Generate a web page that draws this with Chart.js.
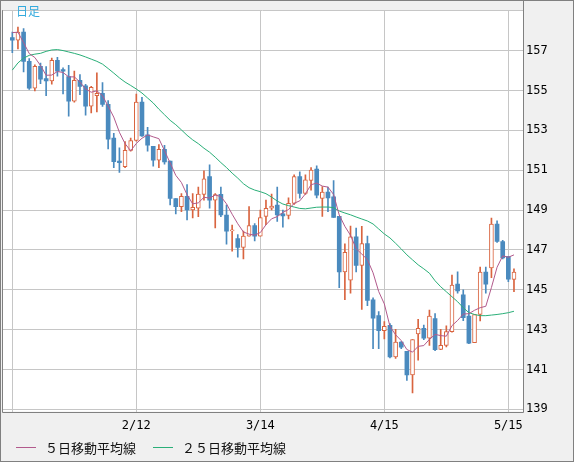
<!DOCTYPE html>
<html lang="ja">
<head>
    <meta charset="UTF-8">
    <title>日足</title>
    <script src="https://cdn.jsdelivr.net/npm/chart.js@4.4.1/dist/chart.umd.min.js"></script>
    <style>
        html, body { margin: 0; padding: 0; background: #f0f0f0; }
        #wrap { position: relative; width: 574px; height: 462px; }
        #chart { display: block; }
        .title { position: absolute; left: 16px; top: 2px; color: #33aadd; font: 12px "Noto Sans CJK JP", sans-serif; }
        .legend { position: absolute; top: 439px; height: 16px; display: flex; align-items: center;
                  font: 13px "Noto Sans CJK JP", sans-serif; color: #111; }
        .legend i { display: inline-block; width: 20px; height: 1px; margin-right: 9px; }
    </style>
</head>
<body>
<div id="wrap">
    <canvas id="chart" width="574" height="462"></canvas>
    <div class="title">日足</div>
    <div class="legend" style="left:16px"><i style="background:#b25a8c"></i>５日移動平均線</div>
    <div class="legend" style="left:153px"><i style="background:#2aaf78"></i>２５日移動平均線</div>
</div>

<script>
    // daily candles, 2025-01-13 .. 2025-05-16
    const dates = [
        '1/13','1/14','1/15','1/16','1/17','1/20','1/21','1/22','1/23','1/24',
        '1/27','1/28','1/29','1/30','1/31','2/3','2/4','2/5','2/6','2/7',
        '2/10','2/11','2/12','2/13','2/14','2/17','2/18','2/19','2/20','2/21',
        '2/24','2/25','2/26','2/27','2/28','3/3','3/4','3/5','3/6','3/7',
        '3/10','3/11','3/12','3/13','3/14','3/17','3/18','3/19','3/20','3/21',
        '3/24','3/25','3/26','3/27','3/28','3/31','4/1','4/2','4/3','4/4',
        '4/7','4/8','4/9','4/10','4/11','4/14','4/15','4/16','4/17','4/18',
        '4/21','4/22','4/23','4/24','4/25','4/28','4/29','4/30','5/1','5/2',
        '5/5','5/6','5/7','5/8','5/9','5/12','5/13','5/14','5/15','5/16'
    ];
    const opens = [
        157.65,157.52,157.93,156.46,155.11,156.21,155.6,155.48,156.51,156.05,
        155.69,154.46,155.51,155.23,154.21,154.74,154.85,154.3,152.61,151.46,
        151.18,151.99,152.49,154.41,152.77,152.2,151.5,152.04,151.46,149.58,
        149.17,149.69,149.0,149.09,149.78,150.68,149.5,149.79,148.75,147.95,
        147.57,147.12,147.69,148.22,147.69,148.68,149.09,149.25,148.81,148.73,
        149.33,150.68,149.83,150.48,151.05,149.58,149.9,149.66,148.68,145.89,
        145.48,147.66,146.22,147.32,144.5,143.71,142.95,143.22,141.63,142.37,
        141.91,140.73,142.78,143.06,142.57,143.55,142.01,142.21,142.9,145.29,
        144.74,143.68,142.34,143.76,145.89,146.1,148.3,147.42,146.66,145.52
    ];
    const highs = [
        157.93,158.18,158.1,156.6,156.29,156.37,156.2,156.62,156.66,156.13,
        156.26,155.97,155.8,155.31,155.2,155.88,155.4,154.49,152.85,152.12,
        152.44,152.61,154.82,154.66,153.15,152.2,152.28,152.25,151.46,149.58,
        149.83,150.28,149.83,150.15,150.97,151.27,149.83,150.15,149.25,148.25,
        147.77,147.94,149.17,148.32,149.0,149.5,149.8,150.15,149.0,149.61,
        150.76,150.92,150.76,151.13,151.22,150.18,150.15,150.48,148.68,147.3,
        148.2,148.1,148.18,147.69,144.6,143.9,143.4,143.3,143.02,142.4,
        141.91,142.5,143.52,143.23,143.98,143.81,143.02,143.19,145.73,145.9,
        145.0,144.2,143.76,146.14,146.14,148.6,148.46,147.48,146.66,146.05
    ];
    const lows = [
        156.9,157.08,155.93,155.05,154.98,155.34,154.74,155.31,155.72,154.82,
        153.71,154.41,154.79,153.76,153.87,153.92,154.2,152.07,151.13,150.89,
        151.13,151.95,152.45,152.69,151.95,151.2,151.13,151.3,149.25,148.8,
        148.92,148.5,148.6,148.67,149.5,149.09,148.1,148.67,147.29,146.93,
        146.63,146.55,147.69,147.45,147.69,148.27,149.0,148.43,148.14,148.55,
        149.28,149.6,149.78,149.99,149.61,148.68,148.92,148.63,145.1,144.5,
        144.83,145.89,144.01,144.2,142.04,142.04,142.53,141.58,141.55,142.05,
        140.45,139.83,141.47,142.5,142.21,141.95,141.99,142.13,142.87,144.83,
        143.45,142.29,142.34,143.44,144.83,145.61,147.37,146.55,145.4,144.91
    ];
    const closes = [
        157.52,157.93,156.46,155.11,156.21,155.56,155.48,156.51,155.97,155.97,
        154.46,155.51,155.2,154.21,155.15,154.85,154.3,152.56,151.43,151.38,
        151.99,152.48,154.41,152.72,152.25,151.5,152.04,151.41,149.58,149.17,
        149.69,149.0,149.13,149.8,150.56,149.5,149.78,148.75,147.94,147.98,
        147.12,147.69,148.22,147.69,148.62,149.09,149.2,148.76,148.71,149.33,
        150.68,149.83,150.51,151.0,149.74,149.9,149.61,148.63,145.89,146.88,
        147.66,146.22,147.32,144.47,143.57,142.95,143.16,141.63,142.37,142.12,
        140.73,142.5,143.07,142.57,143.68,141.99,142.21,142.9,145.24,144.94,
        143.6,142.32,143.76,145.89,145.28,148.3,147.42,146.6,145.53,145.89
    ];
    const ma5 = [
        157.9,157.92,157.4,156.85,156.65,156.25,155.76,155.77,155.95,155.9,
        155.68,155.68,155.42,155.07,154.91,154.98,154.74,154.21,153.66,152.9,
        152.33,151.97,152.34,152.6,152.77,152.67,152.58,151.98,151.36,150.74,
        150.38,149.77,149.31,149.36,149.64,149.6,149.75,149.68,149.31,148.79,
        148.31,147.9,147.79,147.74,147.87,148.26,148.56,148.67,148.88,149.02,
        149.34,149.46,149.81,150.27,150.35,150.2,150.15,149.78,148.75,148.18,
        147.73,147.06,146.79,146.51,145.85,144.91,144.29,143.16,142.74,142.45,
        142.0,141.87,142.16,142.2,142.51,142.76,142.7,142.67,143.2,143.46,
        143.78,143.8,143.97,144.1,144.17,145.11,146.13,146.7,146.63,146.75
    ];
    const ma25 = [
        156.02,156.38,156.62,156.76,156.82,156.86,156.96,157.03,157.05,157.0,
        156.93,156.86,156.78,156.68,156.57,156.46,156.32,156.1,155.87,155.63,
        155.42,155.25,155.07,154.87,154.62,154.37,154.06,153.78,153.5,153.28,
        153.02,152.75,152.52,152.33,152.1,151.9,151.65,151.38,151.13,150.85,
        150.6,150.32,150.12,150.0,149.92,149.82,149.65,149.45,149.3,149.22,
        149.15,149.08,149.06,149.1,149.14,149.15,149.15,149.12,148.95,148.85,
        148.76,148.65,148.55,148.45,148.3,148.05,147.8,147.6,147.33,147.05,
        146.75,146.5,146.25,146.05,145.83,145.45,145.15,144.9,144.65,144.4,
        144.1,143.85,143.76,143.7,143.7,143.73,143.76,143.8,143.85,143.92
    ];
    const gridDates = ['1/13', '2/12', '3/14', '4/15', '5/15'];
    const hiddenDates = ['1/13'];
    const priceTicks = [139, 141, 143, 145, 147, 149, 151, 153, 155, 157];
    const extraGrid = [159];

    const RED = '#d9643f';
    const BLUE = '#4a8abe';
    const GRID = '#c6c6c6';
    const FRAME = '#808080';

    const isUp = closes.map((c, i) => c >= opens[i]);
    const gridIdx = gridDates.map(d => dates.indexOf(d));
    const tickFont = { family: 'DejaVu Sans Mono', size: 12 };

    // white plot area + frame lines
    const framePlugin = {
        id: 'frame',
        beforeDraw(chart) {
            const { ctx, chartArea: a } = chart;
            ctx.save();
            ctx.fillStyle = '#fff';
            ctx.fillRect(a.left, a.top, a.right - a.left, a.bottom - a.top);
            ctx.restore();
        },
        afterDraw(chart) {
            const { ctx, chartArea: a, width, height } = chart;
            ctx.save();
            ctx.strokeStyle = FRAME;
            ctx.lineWidth = 1;
            ctx.beginPath();
            ctx.moveTo(Math.round(a.left) + 0.5, a.top);
            ctx.lineTo(Math.round(a.left) + 0.5, Math.round(a.bottom) + 0.5);
            ctx.lineTo(Math.round(a.right) + 0.5, Math.round(a.bottom) + 0.5);
            ctx.lineTo(Math.round(a.right) + 0.5, 0);
            ctx.stroke();
            ctx.strokeRect(0.5, 0.5, width - 1, height - 1);
            ctx.restore();
        }
    };

    new Chart(document.getElementById('chart'), {
        data: {
            datasets: [
                {
                    type: 'line',
                    label: '５日移動平均線',
                    data: ma5.map((v, i) => ({ x: i, y: v })),
                    borderColor: '#b25a8c',
                    borderWidth: 1,
                    pointRadius: 0,
                    order: 0
                },
                {
                    type: 'line',
                    label: '２５日移動平均線',
                    data: ma25.map((v, i) => ({ x: i, y: v })),
                    borderColor: '#2aaf78',
                    borderWidth: 1,
                    pointRadius: 0,
                    order: 1
                },
                {
                    type: 'bar',
                    label: 'body',
                    data: opens.map((o, i) => ({ x: i, y: [o, closes[i]] })),
                    backgroundColor: isUp.map(u => u ? '#fff' : BLUE),
                    borderColor: isUp.map(u => u ? RED : BLUE),
                    borderWidth: isUp.map(u => u ? 1 : 0),
                    borderSkipped: false,
                    barThickness: 4,
                    minBarLength: 1,
                    grouped: false,
                    order: 2
                },
                {
                    type: 'bar',
                    label: 'wick',
                    data: lows.map((l, i) => ({ x: i, y: [l, highs[i]] })),
                    backgroundColor: isUp.map(u => u ? RED : BLUE),
                    barThickness: 1,
                    grouped: false,
                    order: 3
                }
            ]
        },
        options: {
            responsive: false,
            animation: false,
            layout: { padding: { left: 2, right: 2, top: 1, bottom: 0 } },
            plugins: { legend: { display: false }, tooltip: { enabled: false } },
            scales: {
                x: {
                    type: 'linear',
                    offset: false,
                    min: -1.83,
                    max: 90.6,
                    border: { display: false },
                    grid: { color: GRID, drawTicks: false, offset: false },
                    afterBuildTicks: s => { s.ticks = gridIdx.map(v => ({ value: v })); },
                    afterFit: s => { s.height = 50.5; },
                    ticks: {
                        autoSkip: false,
                        maxRotation: 0,
                        padding: 7,
                        color: '#000',
                        font: tickFont,
                        callback: v => hiddenDates.includes(dates[v]) ? '' : dates[v]
                    }
                },
                y: {
                    position: 'right',
                    min: 138.892,
                    max: 159.025,
                    border: { display: false },
                    grid: { color: GRID, drawTicks: false },
                    afterBuildTicks: s => { s.ticks = priceTicks.concat(extraGrid).map(v => ({ value: v })); },
                    afterFit: s => { s.width = 49; },
                    ticks: {
                        padding: 3,
                        color: '#000',
                        font: tickFont,
                        callback: v => priceTicks.includes(v) ? String(v) : ''
                    }
                }
            }
        },
        plugins: [framePlugin]
    });
</script>
</body>
</html>
